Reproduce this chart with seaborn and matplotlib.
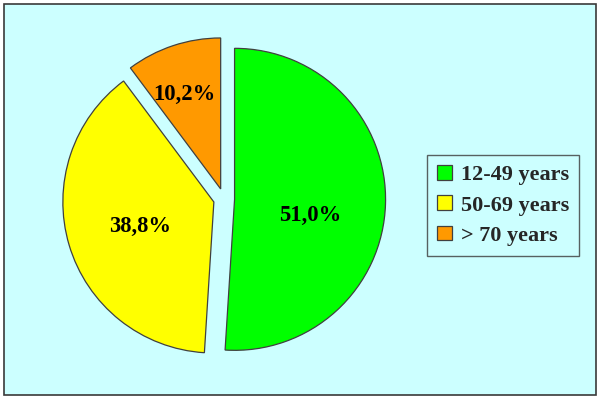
import numpy as np
import matplotlib
matplotlib.use("Agg")
import matplotlib.pyplot as plt
from matplotlib.patches import Rectangle
import seaborn as sns

# Data
categories = ["12-49 years", "50-69 years", "> 70 years"]
values = [51.0, 38.8, 10.2]
pct_labels = ["51,0%", "38,8%", "10,2%"]
colors = ["#00FF00", "#FFFF00", "#FF9900"]

sns.set_theme(style="white")
plt.rcParams['font.family'] = ['Liberation Serif', 'DejaVu Serif']
plt.rcParams['font.weight'] = 'bold'

palette = sns.color_palette(colors)

fig = plt.figure(figsize=(6, 4), dpi=100, facecolor="white")
ax = fig.add_axes([0, 0, 1, 1])
ax.patch.set_visible(False)

# chart area background with border
bg = Rectangle((4 / 600, 5 / 400), 592 / 600, 391 / 400, transform=fig.transFigure,
               facecolor="#CCFFFF", edgecolor="#3a3a3a", lw=1.2, zorder=-5, clip_on=False)
ax.add_patch(bg)

wedges, texts = ax.pie(values, colors=palette, startangle=90, counterclock=False,
                       explode=[0.07, 0.07, 0.07],
                       wedgeprops=dict(edgecolor="#404040", linewidth=0.9))

# label placement relative to each wedge's centre (in radius units)
label_offsets = [(0.50, -0.104), (-0.486, -0.159), (-0.243, 0.623)]
for w, lab, (ox, oy) in zip(wedges, pct_labels, label_offsets):
    cx, cy = w.center
    ax.text(cx + ox * w.r, cy + oy * w.r, lab,
            ha="center", va="center", fontsize=16.3, fontweight="bold", color="black")

# scale: radius 1 => 151 px, center at (224, 201 from bottom)
ax.set_xlim(-224 / 151, (600 - 224) / 151)
ax.set_ylim(-201 / 151, 199 / 151)
ax.set_aspect("auto")
ax.axis("off")

leg = ax.legend(wedges, categories, loc="center", bbox_to_anchor=(503 / 600, 1 - 205.5 / 400),
                bbox_transform=fig.transFigure, frameon=True, fancybox=False,
                prop=dict(family="Liberation Serif", weight="bold", size=16),
                handlelength=0.65, handleheight=0.65, handletextpad=0.4,
                labelspacing=0.45, borderpad=0.45, borderaxespad=0)
leg.get_frame().set_edgecolor("#3a3a3a")
leg.get_frame().set_facecolor("none")
leg.get_frame().set_linewidth(1.0)

fig.savefig("out.png", dpi=100, facecolor="white")
